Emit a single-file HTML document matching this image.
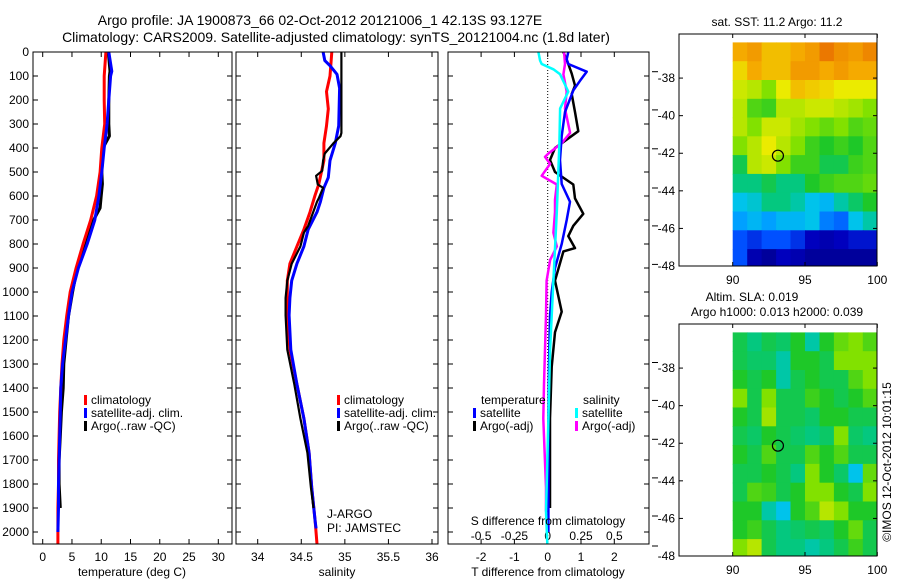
<!DOCTYPE html>
<html><head><meta charset="utf-8">
<style>
html,body{margin:0;padding:0;background:#fff;}
svg{display:block;font-family:"Liberation Sans",sans-serif;}
text{fill:#000;}
</style></head>
<body>
<svg id="chart" width="900" height="580" viewBox="0 0 900 580" xmlns="http://www.w3.org/2000/svg">
<rect x="0" y="0" width="900" height="580" fill="#fff"/>
<text x="320" y="25" font-size="14" text-anchor="middle">Argo profile: JA 1900873_66 02-Oct-2012 20121006_1 42.13S 93.127E</text>
<text x="336" y="42" font-size="14" text-anchor="middle">Climatology: CARS2009. Satellite-adjusted climatology: synTS_20121004.nc (1.8d later)</text>
<g id="g"></g>
</svg>
<script>
const depthTicks=[0,100,200,300,400,500,600,700,800,900,1000,1100,1200,1300,1400,1500,1600,1700,1800,1900,2000];
const tTicks=[0,5,10,15,20,25,30];
const tClimDepth=[0,100,200,300,400,500,600,700,800,900,1000,1100,1200,1300,1400,1500,1600,1700,1800,1900,2000,2050];
const tClimVals=[10.8,10.5,10.5,10.6,10.1,9.8,9.2,8.2,6.9,5.7,4.7,4.1,3.6,3.3,3.1,2.9,2.8,2.7,2.7,2.6,2.6,2.6];
const tSatDepth=[0,80,100,200,300,400,500,600,700,800,900,1000,1100,1200,1300,1400,1500,1600,1700,1800,1900,2000];
const tSatVals=[11.3,11.8,11.6,11.3,11.0,10.5,10.1,9.6,8.9,7.6,6.1,5.0,4.4,3.9,3.4,3.1,3.0,2.9,2.8,2.7,2.7,2.6];
const tArgoDepth=[0,80,100,200,300,350,400,500,550,600,650,700,800,900,1000,1100,1200,1300,1400,1500,1600,1700,1800,1900];
const tArgoVals=[11.2,11.5,11.4,11.3,11.3,11.4,10.3,10.1,10.2,10.0,9.8,8.7,7.4,5.9,5.1,4.4,4.0,3.6,3.5,3.2,3.0,2.8,2.8,3.0];
const sTicks=[34,34.5,35,35.5,36];
const sTickLabels=["34","34.5","35","35.5","36"];
const sClimDepth=[0,100,165,237,308,380,452,552,595,667,739,810,882,953,1025,1097,1240,1384,1527,1670,1814,1957,2050];
const sClimVals=[34.85,34.83,34.79,34.81,34.79,34.76,34.76,34.70,34.66,34.60,34.53,34.45,34.37,34.34,34.34,34.34,34.37,34.45,34.53,34.59,34.62,34.66,34.68];
const sSatDepth=[0,36,57,93,151,308,380,452,523,566,624,667,739,810,882,953,1025,1097,1240,1384,1527,1670,1814,1957,1985];
const sSatVals=[34.75,34.77,34.83,34.91,34.94,34.93,34.89,34.83,34.81,34.76,34.72,34.68,34.58,34.53,34.45,34.39,34.37,34.36,34.38,34.45,34.53,34.59,34.62,34.66,34.67];
const sArgoDepth=[0,337,351,380,423,452,495,516,552,566,610,624,724,753,810,839,882,953,1025,1097,1240,1384,1527,1670,1814,1900];
const sArgoVals=[34.96,34.96,34.95,34.87,34.77,34.75,34.74,34.67,34.69,34.75,34.70,34.68,34.58,34.53,34.49,34.45,34.39,34.34,34.32,34.32,34.34,34.42,34.49,34.57,34.61,34.64];
const dTTicks=[-2,-1,0,1,2];
const dSTicks=[-0.5,-0.25,0,0.25,0.5];
const dSTickLabels=["-0.5","-0.25","0","0.25","0.5"];
const dTSatDepth=[0,30,50,82,120,160,250,350,450,550,624,700,800,900,1000,1100,1300,1500,1800,2000];
const dTSatVals=[0.62,0.57,0.62,1.17,0.97,0.77,0.52,0.42,0.37,0.42,0.67,0.57,0.42,0.22,0.12,0.07,0.04,0.02,0.02,0.02];
const dTArgoDepth=[0,50,90,140,175,250,330,380,400,450,500,552,610,674,724,767,817,831,953,1082,1168,1312,1527,1900];
const dTArgoVals=[0.47,0.62,0.72,0.82,0.72,0.82,0.92,0.42,0.22,0.07,0.22,0.77,0.82,1.07,0.77,0.62,0.82,0.47,0.22,0.42,0.22,0.12,0.07,0.07];
const dSSatDepth=[0,36,50,72,93,165,236,380,667,953,1240,1530,1914,2050];
const dSSatVals=[-0.07,-0.057,-0.045,0.043,0.093,0.155,0.093,0.088,0.068,0.043,0.018,0.005,-0.013,-0.003];
const dSArgoDepth=[0,50,93,165,236,337,380,423,437,466,516,552,616,667,753,810,867,953,1097,1240,1384,1527,1814,1914];
const dSArgoVals=[0.123,0.13,0.118,0.143,0.13,0.168,0.105,0.005,-0.02,0.018,-0.045,0.068,0.055,0.055,0.043,0.068,0.018,-0.008,-0.013,-0.02,-0.028,-0.033,-0.013,-0.013];
const lonTicks=[90,95,100];
const latTicks=[-38,-40,-42,-44,-46,-48];
const sstGrid=[
[0.75,0.78,0.72,0.72,0.75,0.78,0.85,0.80,0.78,0.82],
[0.68,0.75,0.72,0.72,0.78,0.78,0.75,0.78,0.75,0.75],
[0.62,0.60,0.55,0.65,0.72,0.70,0.68,0.65,0.65,0.65],
[0.60,0.50,0.48,0.60,0.60,0.62,0.62,0.60,0.58,0.55],
[0.60,0.55,0.62,0.62,0.58,0.55,0.52,0.55,0.50,0.52],
[0.55,0.60,0.65,0.60,0.55,0.48,0.45,0.48,0.45,0.50],
[0.42,0.60,0.62,0.55,0.48,0.48,0.42,0.42,0.48,0.50],
[0.38,0.38,0.42,0.38,0.38,0.45,0.48,0.50,0.50,0.52],
[0.30,0.32,0.38,0.38,0.35,0.30,0.28,0.35,0.40,0.45],
[0.25,0.28,0.25,0.28,0.28,0.30,0.22,0.20,0.30,0.35],
[0.18,0.15,0.18,0.18,0.15,0.10,0.08,0.10,0.12,0.12],
[0.18,0.08,0.05,0.10,0.08,0.05,0.05,0.05,0.05,0.05]];
const slaGrid=[
[0.42,0.38,0.42,0.40,0.45,0.35,0.45,0.52,0.55,0.50],
[0.42,0.40,0.40,0.35,0.45,0.45,0.42,0.55,0.55,0.55],
[0.45,0.42,0.45,0.35,0.42,0.45,0.42,0.42,0.50,0.55],
[0.55,0.42,0.55,0.42,0.42,0.48,0.45,0.42,0.45,0.50],
[0.45,0.42,0.58,0.42,0.42,0.40,0.45,0.45,0.42,0.42],
[0.42,0.40,0.45,0.42,0.40,0.38,0.40,0.55,0.40,0.38],
[0.45,0.42,0.50,0.42,0.42,0.50,0.45,0.50,0.42,0.42],
[0.42,0.42,0.45,0.42,0.38,0.55,0.45,0.40,0.30,0.52],
[0.42,0.50,0.48,0.42,0.45,0.55,0.55,0.45,0.42,0.55],
[0.45,0.45,0.35,0.30,0.45,0.50,0.60,0.55,0.45,0.45],
[0.45,0.48,0.42,0.38,0.40,0.42,0.40,0.45,0.52,0.42],
[0.55,0.60,0.42,0.38,0.38,0.35,0.38,0.42,0.48,0.42]];
const floatLon=93.127, floatLat=-42.13;

const NS="http://www.w3.org/2000/svg";
const G=document.getElementById('g');
function mk(tag,at,parent){const e=document.createElementNS(NS,tag);for(const k in at)e.setAttribute(k,at[k]);(parent||G).appendChild(e);return e;}
function txt(s,x,y,at,parent){const e=mk('text',Object.assign({x:x,y:y,'font-size':12},at||{}),parent);e.textContent=s;return e;}
const yTop=52,yBot=544,dMax=(yBot-yTop)/0.24;
function yD(d){return yTop+d*(yBot-yTop)/dMax;}
function lin(d0,d1,r0,r1){return v=>r0+(v-d0)*(r1-r0)/(d1-d0);}
const CM=[[0,[0,0,120]],[0.1,[0,0,190]],[0.18,[0,80,255]],[0.25,[0,160,255]],[0.3,[0,195,235]],[0.37,[0,200,140]],[0.45,[30,200,40]],[0.55,[130,225,0]],[0.65,[235,235,0]],[0.75,[245,170,0]],[0.85,[235,120,0]],[1,[200,60,0]]];
function cmap(v){v=Math.max(0,Math.min(1,v));
 for(let i=0;i<CM.length-1;i++){const a=CM[i],b=CM[i+1];if(v<=b[0]){const t=(v-a[0])/(b[0]-a[0]);
  return 'rgb('+a[1].map((c,k)=>Math.round(c+(b[1][k]-c)*t)).join(',')+')';}}
 return 'rgb(200,60,0)';}

function panel(name,x0,x1,showYLabels){
 const grp=mk('g',{});
 
 
 const clip=mk('clipPath',{id:'clip-'+name},grp);mk('rect',{x:x0,y:yTop,width:x1-x0,height:yBot-yTop},clip);
 depthTicks.forEach(d=>{const y=yD(d);
  mk('line',{x1:x0,y1:y,x2:x0+5,y2:y,stroke:'#000'},grp);
  mk('line',{x1:x1,y1:y,x2:x1-5,y2:y,stroke:'#000'},grp);
  if(showYLabels){const t=txt(String(d),x0-4,y+4,{'text-anchor':'end'},grp);
   
   }
 });
 return grp;
}
function frame(grp,x0,x1){mk('rect',{x:x0,y:yTop,width:x1-x0,height:yBot-yTop,fill:'none',stroke:'#000'},grp);}
function series(grp,name,depths,vals,sx,color,w,clipName){
 const pts=depths.map((d,i)=>sx(vals[i]).toFixed(1)+','+yD(d).toFixed(1)).join(' ');
 const p=mk('polyline',{points:pts,fill:'none',stroke:color,'stroke-width':w,'stroke-linejoin':'round','clip-path':'url(#clip-'+clipName+')'},grp);
 
 
}
function legend(grp,x,y,items){
 items.forEach((it,i)=>{const yy=y+i*13;
  const r=mk('rect',{x:x,y:yy-9,width:3,height:10,fill:it[1]},grp);
  
  
  const t=txt(it[0],x+7,yy,{},grp);
  
  
 });
}

const P1=[33,232]; const sxT=lin(0,30,42.7,218.3);
const g1=panel('temperature-panel',P1[0],P1[1],true);
tTicks.forEach(v=>{const x=sxT(v);mk('line',{x1:x,y1:yBot,x2:x,y2:yBot-5,stroke:'#000'},g1);mk('line',{x1:x,y1:yTop,x2:x,y2:yTop+5,stroke:'#000'},g1);
 const t=txt(String(v),x,561,{'text-anchor':'middle'},g1);});
series(g1,'temp-argo-line',tArgoDepth,tArgoVals,sxT,'#000',3,'temperature-panel');
series(g1,'temp-climatology-line',tClimDepth,tClimVals,sxT,'#f00',3,'temperature-panel');
series(g1,'temp-satellite-line',tSatDepth,tSatVals,sxT,'#00f',3,'temperature-panel');
frame(g1,P1[0],P1[1]);
legend(g1,84,404,[['climatology','#f00'],['satellite-adj. clim.','#00f'],['Argo(..raw -QC)','#000']]);
{const t=txt('temperature (deg C)',132,576,{'text-anchor':'middle'},g1);}

const P2=[236,438]; const sxS=lin(34,36,257.7,432);
const g2=panel('salinity-panel',P2[0],P2[1],false);
sTicks.forEach((v,i)=>{const x=sxS(v);mk('line',{x1:x,y1:yBot,x2:x,y2:yBot-5,stroke:'#000'},g2);mk('line',{x1:x,y1:yTop,x2:x,y2:yTop+5,stroke:'#000'},g2);
 const t=txt(sTickLabels[i],x,561,{'text-anchor':'middle'},g2);});
series(g2,'sal-climatology-line',sClimDepth,sClimVals,sxS,'#f00',3,'salinity-panel');
series(g2,'sal-satellite-line',sSatDepth,sSatVals,sxS,'#00f',3,'salinity-panel');
series(g2,'sal-argo-line',sArgoDepth,sArgoVals,sxS,'#000',2.2,'salinity-panel');
frame(g2,P2[0],P2[1]);
legend(g2,337,404,[['climatology','#f00'],['satellite-adj. clim.','#00f'],['Argo(..raw -QC)','#000']]);
{const t=txt('J-ARGO',327,518,{},g2);
 const t2=txt('PI: JAMSTEC',327,532,{},g2);
 const t3=txt('salinity',337,576,{'text-anchor':'middle'},g2);}

const P3=[448,649]; const sxDT=lin(0,2,547.7,614.3); const sxDS=lin(0,0.5,547.7,614.3);
const g3=panel('difference-panel',P3[0],P3[1],false);
mk('line',{x1:sxDT(0),y1:yTop,x2:sxDT(0),y2:yBot,stroke:'#000','stroke-dasharray':'1,2'},g3);
dTTicks.forEach(v=>{const x=sxDT(v);mk('line',{x1:x,y1:yBot,x2:x,y2:yBot-5,stroke:'#000'},g3);mk('line',{x1:x,y1:yTop,x2:x,y2:yTop+5,stroke:'#000'},g3);
 const t=txt(String(v),x,561,{'text-anchor':'middle'},g3);});
dSTicks.forEach((v,i)=>{const t=txt(dSTickLabels[i],sxDS(v),540,{'text-anchor':'middle'},g3);});
series(g3,'dtemp-argo-line',dTArgoDepth,dTArgoVals,sxDT,'#000',2.5,'difference-panel');
series(g3,'dsal-argo-line',dSArgoDepth,dSArgoVals,sxDS,'#f0f',2.5,'difference-panel');
series(g3,'dtemp-satellite-line',dTSatDepth,dTSatVals,sxDT,'#00f',2.5,'difference-panel');
series(g3,'dsal-satellite-line',dSSatDepth,dSSatVals,sxDS,'#0ff',2.5,'difference-panel');
frame(g3,P3[0],P3[1]);
{const t=txt('temperature',481,404,{},g3);
 const t2=txt('salinity',583,404,{},g3);}
legend(g3,473,417,[['satellite','#00f'],['Argo(-adj)','#000']]);
legend(g3,575,417,[['satellite','#0ff'],['Argo(-adj)','#f0f']]);
{const t=txt('S difference from climatology',548,525,{'text-anchor':'middle'},g3);
 const t2=txt('T difference from climatology',548,576,{'text-anchor':'middle'},g3);}
[71.7,109.9,148.8,188,225.9,264.4,362.5,400.4,439.3,477.9,516,546].forEach(y=>mk('line',{x1:652,y1:y,x2:658,y2:y,stroke:'#000'}));

function map(name,yT,yB,grid,titles,titleYs,titleXs){
 const x0=679,x1=877; const sxL=lin(90,100,732.7,877.3); const syL=lin(-38,-48,yT+(yB-yT)*0.19,yB);
 const grp=mk('g',{});
 
 
 const clip=mk('clipPath',{id:'clip-'+name},grp);mk('rect',{x:x0,y:yT,width:x1-x0,height:yB-yT},clip);
 const latTop=-36.1;
 const cg=mk('g',{'clip-path':'url(#clip-'+name+')'},grp);
 grid.forEach((row,r)=>row.forEach((v,c)=>{
  const xa=sxL(90+c),xb=sxL(91+c),ya=syL(latTop-r),yb=syL(latTop-r-1);
  const cell=mk('rect',{x:xa.toFixed(1),y:ya.toFixed(1),width:(xb-xa+0.6).toFixed(1),height:(yb-ya+0.6).toFixed(1),fill:cmap(v)},cg);
  
  
 }));
 const c=mk('circle',{cx:sxL(floatLon),cy:syL(floatLat),r:5.5,fill:'none',stroke:'#000','stroke-width':1.2},grp);
 
 
 mk('rect',{x:x0,y:yT,width:x1-x0,height:yB-yT,fill:'none',stroke:'#000'},grp);
 latTicks.forEach(v=>{const y=syL(v);mk('line',{x1:x0,y1:y,x2:x0+4,y2:y,stroke:'#000'},grp);mk('line',{x1:x1,y1:y,x2:x1-4,y2:y,stroke:'#000'},grp);
  const t=txt(String(v),675,y+4,{'text-anchor':'end'},grp);});
 lonTicks.forEach(v=>{const x=sxL(v);mk('line',{x1:x,y1:yB,x2:x,y2:yB-4,stroke:'#000'},grp);mk('line',{x1:x,y1:yT,x2:x,y2:yT+4,stroke:'#000'},grp);
  const t=txt(String(v),x,yB+18,{'text-anchor':'middle'},grp);});
 titles.forEach((s,i)=>{const t=txt(s,titleXs[i],titleYs[i],{'text-anchor':'middle'},grp);});
}
map('sst-map',34,266,sstGrid,['sat. SST: 11.2 Argo: 11.2'],[26],[777]);
map('sla-map',324,556,slaGrid,['Altim. SLA: 0.019','Argo h1000: 0.013 h2000: 0.039'],[301,316],[752,777]);
{const t=txt('©IMOS 12-Oct-2012 10:01:15',0,0,{'text-anchor':'middle',transform:'translate(891,462) rotate(-90)'});
 
 }
</script>
</body></html>
